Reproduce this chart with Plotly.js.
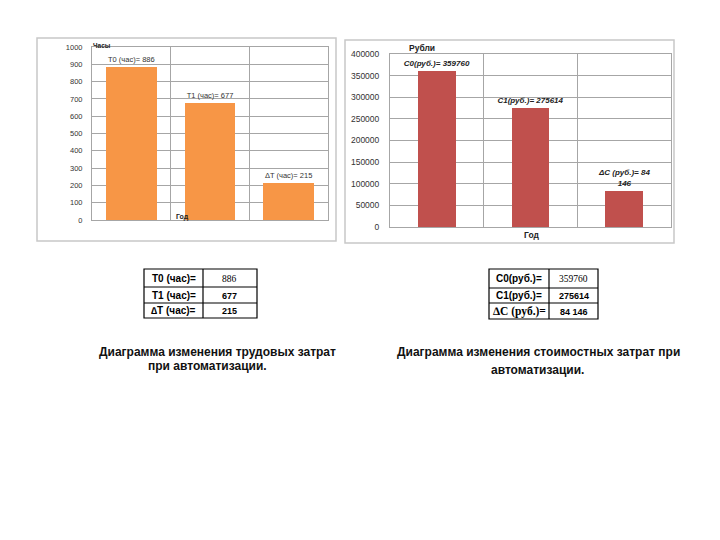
<!DOCTYPE html>
<html>
<head>
<meta charset="utf-8">
<script src="https://cdn.plot.ly/plotly-3.0.1.min.js"></script>
<style>html,body{margin:0;padding:0;background:#fff;}#chart{width:720px;height:540px;}</style>
</head>
<body>
<div id="chart"></div>
<script>
// ---- data ----
const laborCats = ['T0 (час)=', 'T1 (час)=', '∆T (час)='];
const laborVals = [886, 677, 215];
const laborValText = ['886', '677', '215'];
const laborBarLabels = ['T0 (час)= 886', 'T1 (час)= 677', 'ΔT (час)= 215'];
const laborTicks = [0, 100, 200, 300, 400, 500, 600, 700, 800, 900, 1000];

const costCats = ['C0(руб.)=', 'C1(руб.)=', '∆C (руб.)='];
const costVals = [359760, 275614, 84146];
const costValText = ['359760', '275614', '84 146'];
const costBarLabels = ['C0(руб.)= 359760', 'C1(руб.)= 275614', 'ΔC (руб.)= 84<br>146'];
const costTicks = [0, 50000, 100000, 150000, 200000, 250000, 300000, 350000, 400000];

const laborAxisY = 'Часы', laborAxisX = 'Год';
const costAxisY = 'Рубли', costAxisX = 'Год';
const caption1 = ['Диаграмма изменения трудовых затрат', 'при автоматизации.'];
const caption2 = ['Диаграмма изменения стоимостных затрат при', 'автоматизации.'];

// ---- helpers ----
const W = 720, H = 540;
const px = x => x / W;
const py = y => 1 - y / H;
const idx = laborVals.map((_, i) => i);
const sans = 'Liberation Sans, Arial, sans-serif';
const serif = 'Liberation Serif, Times New Roman, serif';
const grid = '#a6a6a6';

const traces = [
  {
    type: 'bar', x: idx, y: laborVals, xaxis: 'x', yaxis: 'y',
    marker: {color: '#F79646'}, width: 0.64,
    text: laborBarLabels, textposition: 'outside', constraintext: 'none', cliponaxis: false,
    outsidetextfont: {family: sans, size: 7.5, color: '#333'},
    hoverinfo: 'none'
  },
  {
    type: 'bar', x: idx, y: costVals, xaxis: 'x2', yaxis: 'y2',
    marker: {color: '#C0504D'}, width: 0.40,
    text: costBarLabels.map(t => '<b><i>' + t.replace('<br>', '</i></b><br><b><i>') + '</i></b>'),
    textposition: 'outside', constraintext: 'none', cliponaxis: false,
    outsidetextfont: {family: sans, size: 8, color: '#222'},
    hoverinfo: 'none'
  }
];

const baseX = {
  type: 'linear', range: [-0.5, 2.5], tick0: 0.5, dtick: 1,
  showgrid: true, gridcolor: grid, gridwidth: 1, showticklabels: false,
  showline: true, linecolor: grid, mirror: true, zeroline: false, fixedrange: true
};
const baseY = {
  showgrid: true, gridcolor: grid, gridwidth: 1, zeroline: false,
  showline: true, linecolor: grid, mirror: true, tickformat: 'd',
  ticks: 'outside', tickcolor: 'rgba(0,0,0,0)', fixedrange: true
};

const shapes = [
  {type: 'rect', xref: 'paper', yref: 'paper', x0: px(37), x1: px(336), y0: py(241), y1: py(38),
   line: {color: '#c8c8c8', width: 1.5}, layer: 'below'},
  {type: 'rect', xref: 'paper', yref: 'paper', x0: px(345), x1: px(674), y0: py(243), y1: py(40),
   line: {color: '#c8c8c8', width: 1.5}, layer: 'below'}
];
const capFont = {family: sans, size: 12, color: '#111'};
const annotations = [
  {text: '<b>' + laborAxisY + '</b>', xref: 'paper', yref: 'paper', x: px(91), y: py(46),
   xanchor: 'left', yanchor: 'middle', showarrow: false, font: {family: sans, size: 6.5, color: '#222'}},
  {text: '<b>' + laborAxisX + '</b>', xref: 'paper', yref: 'paper', x: px(174), y: py(217),
   xanchor: 'left', yanchor: 'middle', showarrow: false, font: {family: sans, size: 7, color: '#222'}},
  {text: '<b>' + costAxisY + '</b>', xref: 'paper', yref: 'paper', x: px(407), y: py(48),
   xanchor: 'left', yanchor: 'middle', showarrow: false, font: {family: sans, size: 8.5, color: '#222'}},
  {text: '<b>' + costAxisX + '</b>', xref: 'paper', yref: 'paper', x: px(531), y: py(235),
   xanchor: 'center', yanchor: 'middle', showarrow: false, font: {family: sans, size: 8.5, color: '#222'}},
  {text: '<b>' + caption1[0] + '</b>', xref: 'paper', yref: 'paper', x: px(218), y: py(352),
   xanchor: 'center', yanchor: 'middle', showarrow: false, font: capFont},
  {text: '<b>' + caption1[1] + '</b>', xref: 'paper', yref: 'paper', x: px(208), y: py(366),
   xanchor: 'center', yanchor: 'middle', showarrow: false, font: capFont},
  {text: '<b>' + caption2[0] + '</b>', xref: 'paper', yref: 'paper', x: px(538), y: py(352),
   xanchor: 'center', yanchor: 'middle', showarrow: false, font: capFont},
  {text: '<b>' + caption2[1] + '</b>', xref: 'paper', yref: 'paper', x: px(537), y: py(370),
   xanchor: 'center', yanchor: 'middle', showarrow: false, font: capFont}
];

// ---- tables (grid of cells) ----
function addTable(x0, xm, x1, rowsY, labels, values, labelFonts, valueFonts) {
  shapes.push({type: 'rect', xref: 'paper', yref: 'paper', x0: px(x0), x1: px(x1),
    y0: py(rowsY[rowsY.length - 1]), y1: py(rowsY[0]), line: {color: '#000', width: 1.2}});
  shapes.push({type: 'line', xref: 'paper', yref: 'paper', x0: px(xm), x1: px(xm),
    y0: py(rowsY[rowsY.length - 1]), y1: py(rowsY[0]), line: {color: '#000', width: 1.2}});
  for (let r = 1; r < rowsY.length - 1; r++) {
    shapes.push({type: 'line', xref: 'paper', yref: 'paper', x0: px(x0), x1: px(x1),
      y0: py(rowsY[r]), y1: py(rowsY[r]), line: {color: '#000', width: 1.2}});
  }
  labels.forEach((lab, i) => {
    const yc = (rowsY[i] + rowsY[i + 1]) / 2;
    annotations.push({text: lab, xref: 'paper', yref: 'paper', x: px((x0 + xm) / 2), y: py(yc),
      xanchor: 'center', yanchor: 'middle', showarrow: false, font: labelFonts[i]});
    annotations.push({text: values[i], xref: 'paper', yref: 'paper', x: px((xm + x1) / 2), y: py(yc + 0.5),
      xanchor: 'center', yanchor: 'middle', showarrow: false, font: valueFonts[i]});
  });
}
const fLab = {family: sans, size: 10, color: '#000', weight: 'bold'};
const fValSerif = {family: serif, size: 9.5, color: '#000'};
const fValSans = {family: sans, size: 9, color: '#000', weight: 'bold'};
addTable(144, 203, 257, [269, 287, 303, 318],
  laborCats, laborValText, [fLab, fLab, fLab], [fValSerif, fValSans, fValSans]);
addTable(489, 549, 598, [269, 288, 303, 319],
  costCats, costValText,
  [fLab, fLab, {family: serif, size: 11.5, color: '#000', weight: 'bold'}],
  [fValSerif, fValSans, fValSans]);

const layout = {
  width: W, height: H,
  margin: {l: 0, r: 0, t: 0, b: 0},
  paper_bgcolor: '#fff', plot_bgcolor: '#fff',
  showlegend: false,
  bargap: 0,
  xaxis: Object.assign({}, baseX, {domain: [px(92), px(328)], anchor: 'y'}),
  yaxis: Object.assign({}, baseY, {domain: [py(220), py(47)], anchor: 'x', range: [0, 1000],
    tickvals: laborTicks, ticklen: 7, tickfont: {family: sans, size: 7.5, color: '#333'}}),
  xaxis2: Object.assign({}, baseX, {domain: [px(390), px(671)], anchor: 'y2'}),
  yaxis2: Object.assign({}, baseY, {domain: [py(227), py(54)], anchor: 'x2', range: [0, 400000],
    tickvals: costTicks, ticklen: 8, tickfont: {family: sans, size: 8.5, color: '#333'}}),
  shapes: shapes,
  annotations: annotations
};

Plotly.newPlot('chart', traces, layout, {staticPlot: true, displayModeBar: false});
</script>
</body>
</html>
